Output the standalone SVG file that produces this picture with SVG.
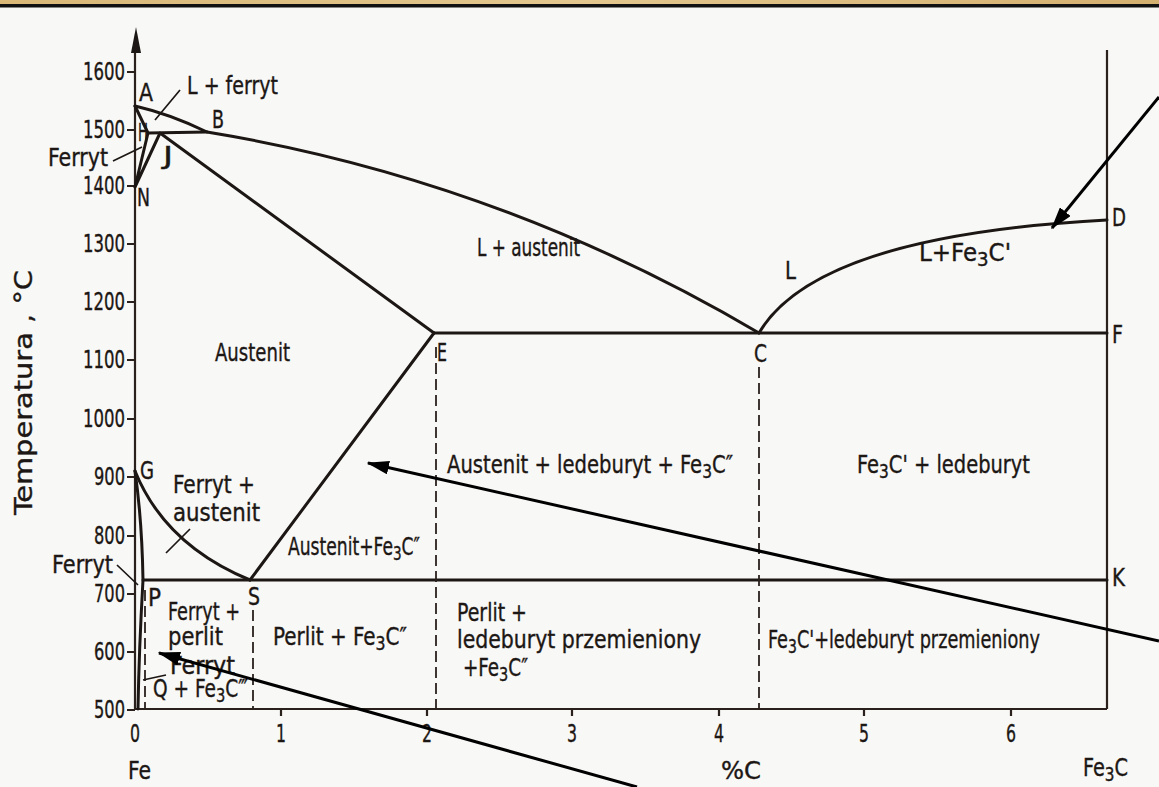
<svg xmlns="http://www.w3.org/2000/svg" width="1159" height="787" viewBox="0 0 1159 787">
<style>
.ln{fill:none;stroke:#1c1714;stroke-width:3;stroke-linecap:round;stroke-linejoin:round}
.ax{fill:none;stroke:#2a211d;stroke-width:2.2}
.ds{fill:none;stroke:#2a211d;stroke-width:1.8;stroke-dasharray:11 5}
.ld{fill:none;stroke:#1c1714;stroke-width:1.7}
.ar{fill:none;stroke:#000;stroke-width:3;marker-end:url(#ah)}
.t{font-family:"DejaVu Sans Condensed","DejaVu Sans",sans-serif;font-stretch:condensed;font-size:24px;fill:#1c1714;stroke:#1c1714;stroke-width:0.35}
.n{text-anchor:end}
.s{font-size:19px}
</style>
<defs>
<linearGradient id="top" x1="0" y1="0" x2="1" y2="0">
<stop offset="0" stop-color="#d9b878"/><stop offset="0.5" stop-color="#e3c78e"/><stop offset="1" stop-color="#d4b070"/>
</linearGradient>
<marker id="ah" markerWidth="7.5" markerHeight="4.6" refX="7" refY="2.3" orient="auto" markerUnits="strokeWidth">
<path d="M0,0 L7.5,2.3 L0,4.6 z" fill="#000"/>
</marker>
</defs>
<rect x="0" y="0" width="1159" height="787" fill="#f8f8f6"/>
<rect x="0" y="0" width="1159" height="5" fill="url(#top)"/>
<rect x="0" y="4" width="1159" height="3.5" fill="#111"/>

<g id="axes">
<path class="ax" d="M135,709 L135,45 M135,709 L1107,709 M1107,709 L1107,50"/>
<path d="M136,27 L141,53 L131,53 z" fill="#1c1714"/>
<path class="ax" d="M127,72 H135 M127,130 H135 M127,186 H135 M127,244 H135 M127,302 H135 M127,360 H135 M127,419 H135 M127,477 H135 M127,536 H135 M127,594 H135 M127,652 H135 M127,710 H135"/>
<path class="ax" d="M281,709 V716 M427,709 V716 M572,709 V716 M719,709 V716 M864,709 V716 M1011,709 V716"/>
</g>

<g id="ticklabels" class="t">
<text class="n" x="125" y="80" textLength="42" lengthAdjust="spacingAndGlyphs">1600</text>
<text class="n" x="125" y="138" textLength="42" lengthAdjust="spacingAndGlyphs">1500</text>
<text class="n" x="125" y="194" textLength="42" lengthAdjust="spacingAndGlyphs">1400</text>
<text class="n" x="125" y="252" textLength="42" lengthAdjust="spacingAndGlyphs">1300</text>
<text class="n" x="125" y="310" textLength="42" lengthAdjust="spacingAndGlyphs">1200</text>
<text class="n" x="125" y="368" textLength="42" lengthAdjust="spacingAndGlyphs">1100</text>
<text class="n" x="125" y="427" textLength="42" lengthAdjust="spacingAndGlyphs">1000</text>
<text class="n" x="125" y="485" textLength="31" lengthAdjust="spacingAndGlyphs">900</text>
<text class="n" x="125" y="544" textLength="31" lengthAdjust="spacingAndGlyphs">800</text>
<text class="n" x="125" y="602" textLength="31" lengthAdjust="spacingAndGlyphs">700</text>
<text class="n" x="125" y="660" textLength="31" lengthAdjust="spacingAndGlyphs">600</text>
<text class="n" x="125" y="718" textLength="31" lengthAdjust="spacingAndGlyphs">500</text>
<text x="130" y="742" textLength="10" lengthAdjust="spacingAndGlyphs">0</text>
<text x="276" y="742" textLength="10" lengthAdjust="spacingAndGlyphs">1</text>
<text x="422" y="742" textLength="10" lengthAdjust="spacingAndGlyphs">2</text>
<text x="567" y="742" textLength="10" lengthAdjust="spacingAndGlyphs">3</text>
<text x="714" y="742" textLength="10" lengthAdjust="spacingAndGlyphs">4</text>
<text x="859" y="742" textLength="10" lengthAdjust="spacingAndGlyphs">5</text>
<text x="1006" y="742" textLength="10" lengthAdjust="spacingAndGlyphs">6</text>
<text x="128" y="779" textLength="23" lengthAdjust="spacingAndGlyphs">Fe</text>
<text x="721" y="779" textLength="40" lengthAdjust="spacingAndGlyphs">%C</text>
<text x="1083" y="776" textLength="45" lengthAdjust="spacingAndGlyphs">Fe<tspan class="s" dy="5">3</tspan><tspan dy="-5">C</tspan></text>
<text transform="translate(32,515) rotate(-90)" textLength="245" lengthAdjust="spacingAndGlyphs">Temperatura , °C</text>
</g>

<g id="phase-lines">
<path class="ln" d="M135,106 Q170,114 207,132 Q500,180 759,333"/>
<path class="ln" d="M759,333 C790,280 880,232 1107,220"/>
<path class="ln" d="M135,106 L148,133 L207,132"/>
<path class="ln" d="M135,187 L148,133 M135,187 L160,133 L434,333"/>
<path class="ln" d="M434,333 L1107,333"/>
<path class="ln" d="M434,333 L250,580"/>
<path class="ln" d="M135,471 Q165,545 250,580"/>
<path class="ln" d="M135,471 Q142,520 143,580 Q139,650 138,709"/>
<path class="ln" d="M143,580 L1107,580"/>
<path class="ds" d="M436,347 V709 M759,367 V709 M145,590 V709 M253,610 V709"/>
<path class="ld" d="M180,90 L155,120 M113,161 L142,147 M166,553 L190,529 M117,565 L138,585 M143,680 L166,675"/>
</g>

<g id="labels" class="t">
<text x="139" y="101" textLength="14" lengthAdjust="spacingAndGlyphs">A</text>
<text x="187" y="94" textLength="91" lengthAdjust="spacingAndGlyphs">L + ferryt</text>
<text x="212" y="128" textLength="12" lengthAdjust="spacingAndGlyphs">B</text>
<text x="138" y="141" textLength="10" lengthAdjust="spacingAndGlyphs">H</text>
<text x="163" y="164" textLength="10" lengthAdjust="spacingAndGlyphs">J</text>
<text x="48" y="166" textLength="60" lengthAdjust="spacingAndGlyphs">Ferryt</text>
<text x="137" y="206" textLength="13" lengthAdjust="spacingAndGlyphs">N</text>
<text x="1112" y="226" textLength="14" lengthAdjust="spacingAndGlyphs">D</text>
<text x="785" y="279" textLength="11" lengthAdjust="spacingAndGlyphs">L</text>
<text x="919" y="261" textLength="92" lengthAdjust="spacingAndGlyphs">L+Fe<tspan class="s" dy="5">3</tspan><tspan dy="-5">C'</tspan></text>
<text x="477" y="256" textLength="103" lengthAdjust="spacingAndGlyphs">L + austenit</text>
<text x="215" y="361" textLength="75" lengthAdjust="spacingAndGlyphs">Austenit</text>
<text x="437" y="361" textLength="10" lengthAdjust="spacingAndGlyphs">E</text>
<text x="754" y="362" textLength="13" lengthAdjust="spacingAndGlyphs">C</text>
<text x="1112" y="343" textLength="11" lengthAdjust="spacingAndGlyphs">F</text>
<text x="447" y="473" textLength="286" lengthAdjust="spacingAndGlyphs">Austenit + ledeburyt + Fe<tspan class="s" dy="5">3</tspan><tspan dy="-5">C″</tspan></text>
<text x="857" y="473" textLength="173" lengthAdjust="spacingAndGlyphs">Fe<tspan class="s" dy="5">3</tspan><tspan dy="-5">C' + ledeburyt</tspan></text>
<text x="140" y="479" textLength="14" lengthAdjust="spacingAndGlyphs">G</text>
<text x="173" y="493" textLength="82" lengthAdjust="spacingAndGlyphs">Ferryt +</text>
<text x="173" y="521" textLength="87" lengthAdjust="spacingAndGlyphs">austenit</text>
<text x="288" y="555" textLength="132" lengthAdjust="spacingAndGlyphs">Austenit+Fe<tspan class="s" dy="5">3</tspan><tspan dy="-5">C″</tspan></text>
<text x="52" y="573" textLength="61" lengthAdjust="spacingAndGlyphs">Ferryt</text>
<text x="1112" y="586" textLength="13" lengthAdjust="spacingAndGlyphs">K</text>
<text x="148" y="606" textLength="13" lengthAdjust="spacingAndGlyphs">P</text>
<text x="248" y="605" textLength="12" lengthAdjust="spacingAndGlyphs">S</text>
<text x="168" y="620" textLength="72" lengthAdjust="spacingAndGlyphs">Ferryt +</text>
<text x="168" y="645" textLength="55" lengthAdjust="spacingAndGlyphs">perlit</text>
<text x="273" y="645" textLength="134" lengthAdjust="spacingAndGlyphs">Perlit + Fe<tspan class="s" dy="5">3</tspan><tspan dy="-5">C″</tspan></text>
<text x="457" y="621" textLength="70" lengthAdjust="spacingAndGlyphs">Perlit +</text>
<text x="457" y="648" textLength="244" lengthAdjust="spacingAndGlyphs">ledeburyt przemieniony</text>
<text x="463" y="676" textLength="65" lengthAdjust="spacingAndGlyphs">+Fe<tspan class="s" dy="5">3</tspan><tspan dy="-5">C″</tspan></text>
<text x="768" y="648" textLength="272" lengthAdjust="spacingAndGlyphs">Fe<tspan class="s" dy="5">3</tspan><tspan dy="-5">C'+ledeburyt przemieniony</tspan></text>
<text x="170" y="674" textLength="65" lengthAdjust="spacingAndGlyphs">Ferryt</text>
<text x="153" y="697" textLength="95" lengthAdjust="spacingAndGlyphs">Q + Fe<tspan class="s" dy="5">3</tspan><tspan dy="-5">C‴</tspan></text>
</g>

<g id="connectors">
<path class="ar" d="M1159,97 L1052,228"/>
<path class="ar" d="M1159,641 L368,463"/>
<path class="ar" d="M637,787 L159,653"/>
</g>
</svg>
